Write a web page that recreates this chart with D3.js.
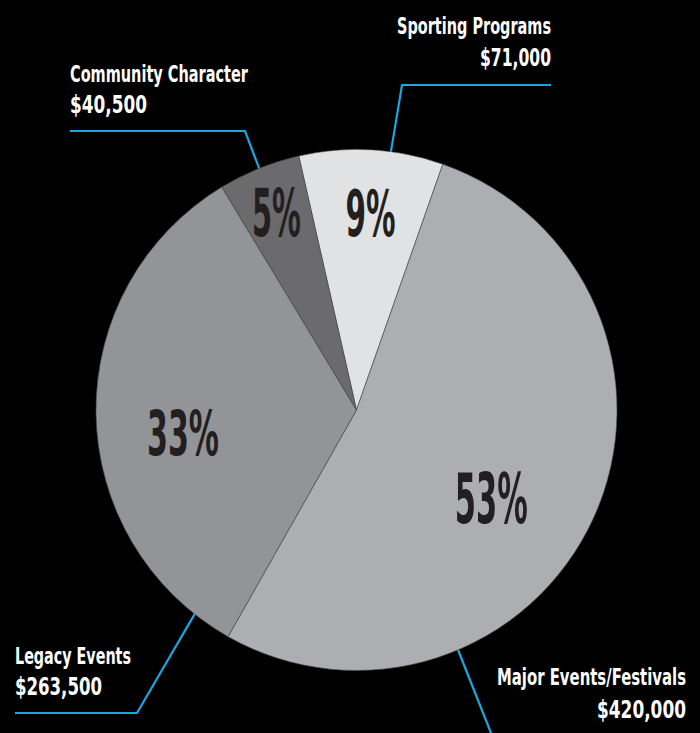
<!DOCTYPE html>
<html>
<head>
<meta charset="utf-8">
<script src="https://cdn.jsdelivr.net/npm/d3@7"></script>
<style>
  html, body { margin: 0; padding: 0; background: #000; }
  svg { display: block; }
</style>
</head>
<body>
<svg id="chart" width="700" height="733"></svg>
<script>
// Budget allocation by program area
const categories = ["Sporting Programs", "Major Events/Festivals", "Legacy Events", "Community Character"];
const amounts = [71000, 420000, 263500, 40500];
const amountLabels = ["$71,000", "$420,000", "$263,500", "$40,500"];

const sliceColors = ["#e1e2e4", "#adaeb1", "#939497", "#6b6b6e"];
const leaderColor = "#1ba6df";
const deg = Math.PI / 180;

const width = 700, height = 733;
const cx = 356.5, cy = 410, radius = 260.5;
const startAngle = -12.8 * deg;

const svg = d3.select("#chart");
const total = d3.sum(amounts);
const data = categories.map((c, i) => ({ name: c, value: amounts[i], amount: amountLabels[i], color: sliceColors[i] }));

const pie = d3.pie().value(d => d.value).sort(null)
  .startAngle(startAngle).endAngle(startAngle + 2 * Math.PI);
const arcs = pie(data);
const arc = d3.arc().innerRadius(0).outerRadius(radius);

const polar = (a, r) => [cx + r * Math.sin(a), cy - r * Math.cos(a)];

// Leader lines: anchor angle on the pie rim, then elbow and end points
const leaders = [
  { anchor: 7.5 * deg, pts: [[402, 85], [551, 85]] },
  { anchor: 157 * deg, pts: [[491, 733], [496, 745]] },
  { anchor: 218.8 * deg, pts: [[137, 713], [15, 713]] },
  { anchor: -22 * deg, pts: [[245, 131], [70, 131]] }
];
const lineGen = d3.line();
svg.append("g").selectAll("path").data(leaders).join("path")
  .attr("d", d => lineGen([polar(d.anchor, radius - 12), ...d.pts]))
  .attr("fill", "none")
  .attr("stroke", leaderColor)
  .attr("stroke-width", 2.2);

// Slices
const g = svg.append("g").attr("transform", `translate(${cx},${cy})`);
g.selectAll("path").data(arcs).join("path")
  .attr("d", arc)
  .attr("fill", d => d.data.color)
  .attr("stroke", "#4a4a4c")
  .attr("stroke-width", 0.6);

// Percentage labels (angle nudge from slice middle, radius, cap height, width)
const pctLayout = [
  { dA: 0.8 * deg, r: 198, cap: 46, w: 50 },
  { dA: 8.7 * deg, r: 161, cap: 50, w: 73 },
  { dA: -6.6 * deg, r: 175, cap: 45, w: 72 },
  { dA: -0.1 * deg, r: 213, cap: 47, w: 49 }
];
const fmtPct = d3.format(".0%");
const fontStack = "'Liberation Sans Narrow', 'DejaVu Sans Condensed', 'Roboto', sans-serif";

function fitText(sel, w) {
  sel.each(function () {
    this.setAttribute("textLength", w);
    this.setAttribute("lengthAdjust", "spacingAndGlyphs");
  });
}

arcs.forEach((a, i) => {
  const L = pctLayout[i];
  const mid = (a.startAngle + a.endAngle) / 2 + L.dA;
  const [x, y] = polar(mid, L.r);
  const t = svg.append("text")
    .attr("x", x - L.w / 2)
    .attr("y", y + L.cap / 2)
    .attr("font-family", fontStack)
    .attr("font-weight", "bold")
    .attr("font-size", L.cap / 0.72)
    .attr("fill", "#231f20")
    .text(fmtPct(a.data.value / total));
  fitText(t, L.w);
});

// Category names and amounts
const textLayout = [
  { anchor: "end", x: 551, nameBase: 34, nameW: 154, amtBase: 66, amtW: 71 },
  { anchor: "end", x: 686, nameBase: 685, nameW: 189, amtBase: 718, amtW: 89 },
  { anchor: "start", x: 15, nameBase: 664, nameW: 116, amtBase: 695, amtW: 87 },
  { anchor: "start", x: 70, nameBase: 82, nameW: 178, amtBase: 113, amtW: 77 }
];
data.forEach((d, i) => {
  const L = textLayout[i];
  const nx = L.anchor === "end" ? L.x - L.nameW : L.x;
  const ax = L.anchor === "end" ? L.x - L.amtW : L.x;
  const n = svg.append("text")
    .attr("x", nx).attr("y", L.nameBase)
    .attr("font-family", fontStack)
    .attr("font-weight", "bold")
    .attr("font-size", 23)
    .attr("fill", "#ffffff")
    .text(d.name);
  fitText(n, L.nameW);
  const m = svg.append("text")
    .attr("x", ax).attr("y", L.amtBase)
    .attr("font-family", fontStack)
    .attr("font-weight", "bold")
    .attr("font-size", 24.5)
    .attr("fill", "#ffffff")
    .text(d.amount);
  fitText(m, L.amtW);
});
</script>
</body>
</html>
